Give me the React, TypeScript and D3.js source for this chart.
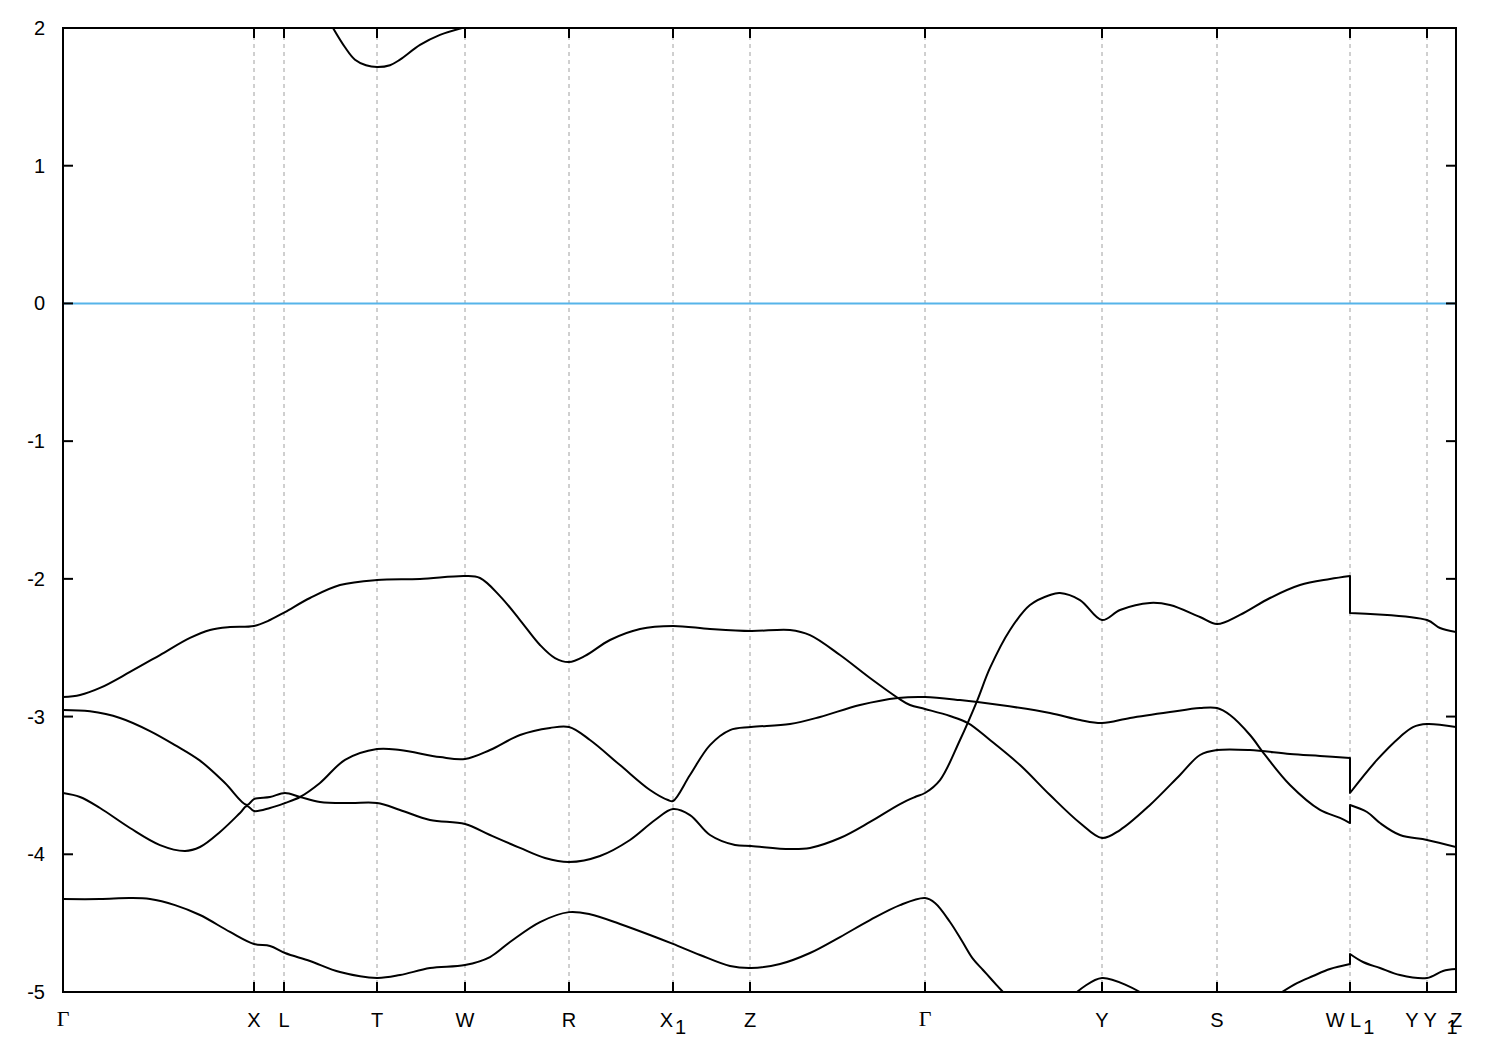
import React from "react";
import * as d3 from "d3";

type P = [number, number];

// high-symmetry points along the path (path distance units)
const kTicks = [0, 191, 221, 314, 402, 506, 610, 687, 862, 1039, 1154, 1287, 1364, 1393];
const kLabels = ["Γ", "X", "L", "T", "W", "R", "X_1", "Z", "Γ", "Y", "S", "W L_1", "Y Y", "Z_1"];
const yTicks = [-5, -4, -3, -2, -1, 0, 1, 2];
const fermiLevel = 0;

// conduction band (top)
const bandTop: P[] = [
  [270, 2.0], [282, 1.86], [292, 1.77], [303, 1.73], [314, 1.717], [327, 1.73], [337, 1.77],
  [357, 1.877], [377, 1.95], [399, 2.0],
];

const bandA: P[] = [
  [0, -2.858], [17, -2.843], [37, -2.792], [67, -2.676], [97, -2.553], [127, -2.429], [147, -2.371],
  [167, -2.35], [191, -2.342], [207, -2.299], [222, -2.241], [247, -2.139], [277, -2.045], [314, -2.008],
  [357, -2.001], [402, -1.979], [417, -1.994], [437, -2.125], [457, -2.299], [477, -2.48], [492, -2.575],
  [506, -2.604], [522, -2.56], [547, -2.444], [577, -2.364], [610, -2.342], [647, -2.364], [688, -2.379],
  [727, -2.371], [747, -2.408], [777, -2.553], [807, -2.72], [835, -2.865], [847, -2.916], [862, -2.945],
  [887, -2.996], [905, -3.047], [927, -3.17], [957, -3.352], [987, -3.57], [1017, -3.773], [1039, -3.882],
  [1057, -3.824], [1087, -3.642], [1117, -3.424], [1137, -3.279], [1154, -3.243], [1187, -3.243],
  [1227, -3.272], [1257, -3.286], [1287, -3.301],
  [1287, -3.555], [1314, -3.315], [1337, -3.148], [1350, -3.076], [1364, -3.054], [1393, -3.076],
];

const bandB: P[] = [
  [0, -2.952], [27, -2.962], [57, -3.01], [87, -3.105], [112, -3.207], [137, -3.32], [162, -3.482],
  [184, -3.642], [191, -3.599], [207, -3.584], [222, -3.555], [237, -3.584], [257, -3.62], [287, -3.628],
  [314, -3.628], [337, -3.678], [367, -3.751], [402, -3.78], [427, -3.86], [457, -3.954], [482, -4.027],
  [506, -4.056], [537, -4.012], [567, -3.896], [592, -3.751], [610, -3.671], [627, -3.715], [647, -3.86],
  [672, -3.933], [688, -3.94], [727, -3.962], [747, -3.954], [777, -3.882], [807, -3.765], [837, -3.635],
  [852, -3.584], [862, -3.555], [877, -3.461], [897, -3.17], [914, -2.887], [927, -2.647], [947, -2.371],
  [967, -2.19], [987, -2.117], [997, -2.103], [1017, -2.154], [1039, -2.299], [1057, -2.226],
  [1087, -2.175], [1107, -2.19], [1137, -2.277], [1154, -2.328], [1177, -2.262], [1207, -2.139],
  [1237, -2.045], [1267, -2.001], [1287, -1.979],
  [1287, -2.248], [1364, -2.299], [1377, -2.357], [1393, -2.386],
];

const bandC: P[] = [
  [0, -3.555], [17, -3.584], [37, -3.664], [67, -3.809], [97, -3.933], [122, -3.976], [137, -3.947],
  [157, -3.838], [177, -3.7], [184, -3.649], [191, -3.686], [207, -3.664], [222, -3.628], [237, -3.584],
  [257, -3.482], [282, -3.315], [314, -3.236], [337, -3.243], [377, -3.294], [402, -3.308], [427, -3.243],
  [457, -3.134], [487, -3.083], [506, -3.076], [527, -3.17], [557, -3.352], [587, -3.533], [605, -3.606],
  [610, -3.613], [627, -3.424], [647, -3.207], [667, -3.098], [688, -3.076], [727, -3.054], [757, -3.003],
  [797, -2.916], [835, -2.865], [862, -2.858], [897, -2.88], [937, -2.916], [987, -2.974], [1017, -3.025],
  [1039, -3.047], [1067, -3.01], [1107, -2.967], [1137, -2.938], [1154, -2.938], [1167, -2.989],
  [1187, -3.134], [1202, -3.279], [1227, -3.497], [1257, -3.678], [1277, -3.736], [1287, -3.773],
  [1287, -3.642], [1304, -3.693], [1317, -3.773], [1337, -3.86], [1364, -3.896], [1393, -3.947],
];

const bandD1: P[] = [
  [0, -4.325], [37, -4.325], [67, -4.318], [87, -4.325], [112, -4.369], [137, -4.441], [167, -4.564],
  [191, -4.651], [207, -4.666], [222, -4.717], [247, -4.775], [277, -4.855], [314, -4.898], [337, -4.877],
  [367, -4.826], [402, -4.804], [427, -4.746], [447, -4.637], [477, -4.492], [506, -4.42], [527, -4.435],
  [557, -4.506], [587, -4.586], [610, -4.651], [637, -4.731], [667, -4.811], [688, -4.826], [717, -4.797],
  [747, -4.717], [777, -4.601], [807, -4.478], [837, -4.369], [862, -4.318], [872, -4.354], [887, -4.492],
  [899, -4.63], [910, -4.76], [920, -4.84], [929, -4.913], [940, -5.0],
];
const bandD2: P[] = [[1014, -5.0], [1039, -4.898], [1077, -5.0]];
const bandD3: P[] = [
  [1219, -5.0], [1234, -4.935], [1250, -4.884], [1267, -4.833], [1287, -4.797],
  [1287, -4.724], [1300, -4.782], [1317, -4.826], [1337, -4.877], [1364, -4.898], [1380, -4.847], [1393, -4.833],
];

const bands: P[][] = [bandTop, bandA, bandB, bandC, bandD1, bandD2, bandD3];

const W = 1500;
const H = 1050;
const L = 63, R = 1456, T = 28, B = 992;

const x = d3.scaleLinear().domain([0, 1393]).range([L, R]);
const y = d3.scaleLinear().domain([-5, 2]).range([B, T]);

const smooth = d3.line<P>().x((d) => x(d[0])).y((d) => y(d[1])).curve(d3.curveCatmullRom.alpha(0.5));

function bandPath(pts: P[]): string {
  // split at discontinuities (same k twice) and join them with vertical jumps
  const runs: P[][] = [];
  let cur: P[] = [];
  pts.forEach((p, i) => {
    if (i > 0 && p[0] === pts[i - 1][0]) {
      runs.push(cur);
      cur = [];
    }
    cur.push(p);
  });
  runs.push(cur);
  let d = "";
  runs.forEach((run, i) => {
    let seg = smooth(run) || "";
    if (i > 0) seg = "L" + seg.slice(1);
    d += seg;
  });
  return d;
}

const font = "'Liberation Sans', Arial, sans-serif";
const serif = "'Liberation Serif', 'Times New Roman', serif";
const FS = 20;

function KLabel({ label, k, last }: { label: string; k: number; last: boolean }) {
  const [main, sub] = label.split("_");
  const isGreek = main === "Γ";
  const dx = label === "Y Y" ? -6 : 0;
  if (last && sub) {
    return (
      <g>
        <text x={x(k)} y={1027} textAnchor="middle" fontFamily={font} fontSize={FS}>{main}</text>
        <text x={x(k) - 4} y={1034} textAnchor="middle" fontFamily={font} fontSize={FS}>{sub}</text>
      </g>
    );
  }
  return (
    <text x={x(k) + dx} y={isGreek ? 1026 : 1027} textAnchor="middle" fontFamily={isGreek ? serif : font} fontSize={isGreek ? 22 : FS}>
      <tspan>{main}</tspan>
      {sub ? <tspan dx={2} dy={7}>{sub}</tspan> : null}
    </text>
  );
}

export default function App() {
  return (
    <svg width={W} height={H} style={{ position: "absolute", left: 0, top: 0, background: "#fff" }}>
      <rect x={0} y={0} width={W} height={H} fill="#fff" />
      <defs>
        <clipPath id="plotclip">
          <rect x={L} y={T} width={R - L} height={B - T} />
        </clipPath>
      </defs>
      {/* vertical grid lines at high-symmetry points */}
      {kTicks.map((k, i) => (
        <line key={"g" + i} x1={x(k)} x2={x(k)} y1={T} y2={B} stroke="#a0a0a0" strokeWidth={1} strokeDasharray="4,4" />
      ))}
      {/* Fermi level */}
      <line x1={L} x2={R} y1={y(fermiLevel)} y2={y(fermiLevel)} stroke="#56b4e9" strokeWidth={2} />
      {/* bands */}
      <g clipPath="url(#plotclip)">
        {bands.map((b, i) => (
          <path key={"b" + i} d={bandPath(b)} fill="none" stroke="#000" strokeWidth={2} strokeLinejoin="round" />
        ))}
      </g>
      {/* y ticks */}
      {yTicks.map((v) => (
        <g key={"y" + v}>
          <line x1={L} x2={L + 10} y1={y(v)} y2={y(v)} stroke="#000" strokeWidth={2} />
          <line x1={R} x2={R - 10} y1={y(v)} y2={y(v)} stroke="#000" strokeWidth={2} />
          <text x={45} y={y(v)} dy="0.35em" textAnchor="end" fontFamily={font} fontSize={FS}>{v}</text>
        </g>
      ))}
      {/* x ticks */}
      {kTicks.map((k, i) => (
        <g key={"x" + i}>
          <line x1={x(k)} x2={x(k)} y1={B} y2={B - 10} stroke="#000" strokeWidth={2} />
          <line x1={x(k)} x2={x(k)} y1={T} y2={T + 10} stroke="#000" strokeWidth={2} />
          <KLabel label={kLabels[i]} k={k} last={i === kTicks.length - 1} />
        </g>
      ))}
      {/* frame */}
      <rect x={L} y={T} width={R - L} height={B - T} fill="none" stroke="#000" strokeWidth={2} />
    </svg>
  );
}
